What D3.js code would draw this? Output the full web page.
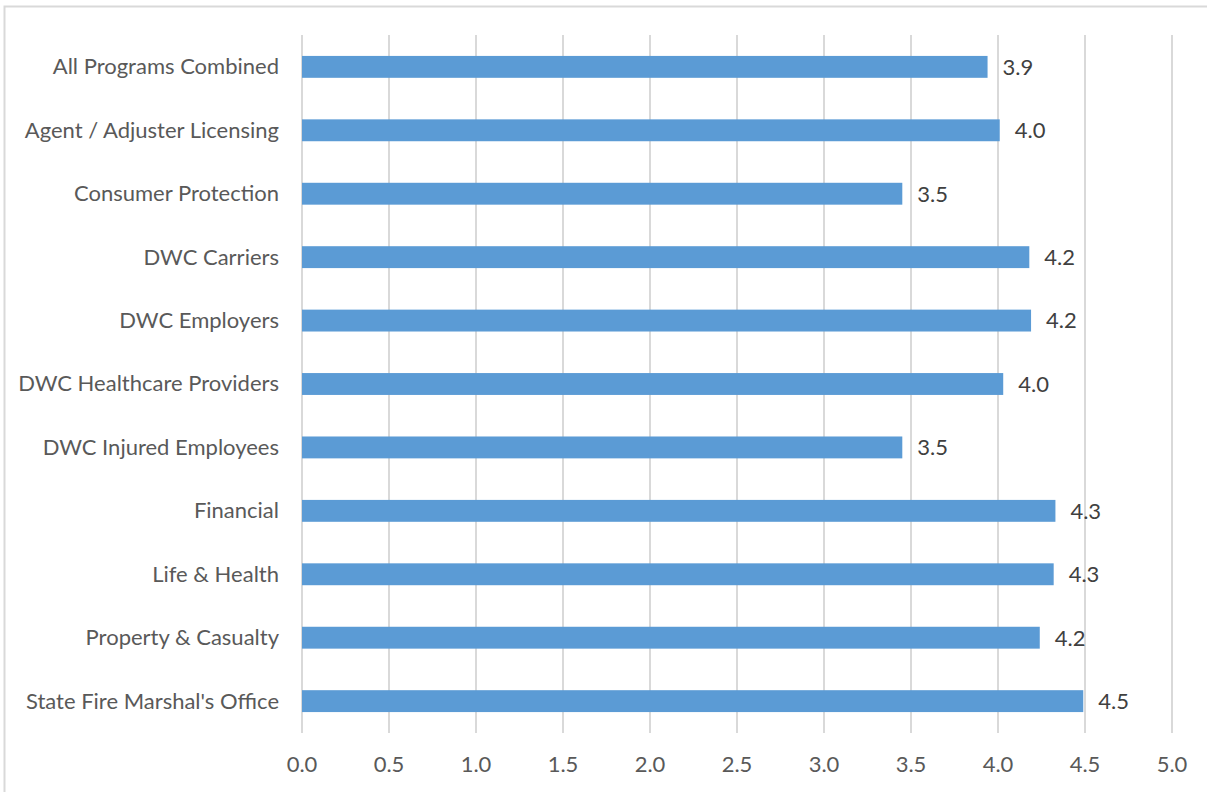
<!DOCTYPE html>
<html><head><meta charset="utf-8">
<script src="https://cdn.jsdelivr.net/npm/d3@7"></script>
<style>html,body{margin:0;padding:0;background:#fff;overflow:hidden}</style>
</head><body>
<svg id="chart" width="1207" height="792"></svg>
<script>
const categories = ["All Programs Combined","Agent / Adjuster Licensing","Consumer Protection","DWC Carriers","DWC Employers","DWC Healthcare Providers","DWC Injured Employees","Financial","Life & Health","Property & Casualty","State Fire Marshal's Office"];
const values = [3.94, 4.01, 3.45, 4.18, 4.19, 4.03, 3.45, 4.33, 4.32, 4.24, 4.49];
const tickValues = [0,0.5,1,1.5,2,2.5,3,3.5,4,4.5,5];

const svg = d3.select("#chart");
const font = "Lato, 'Open Sans', sans-serif";
const textColor = "#595959";

svg.append("rect").attr("x",4.5).attr("y",6.5).attr("width",1220).attr("height",800)
  .attr("fill","#fff").attr("stroke","#d9d9d9").attr("stroke-width",2);

const m = {left:302, right:1172, top:35, bottom:733};
const x = d3.scaleLinear().domain([0,5]).range([m.left,m.right]);
const y = d3.scaleBand().domain(categories).range([m.top,m.bottom]).paddingInner(0.655).paddingOuter(0.33);

svg.append("g").selectAll("line").data(tickValues).join("line")
  .attr("x1",d=>x(d)).attr("x2",d=>x(d)).attr("y1",m.top).attr("y2",m.bottom)
  .attr("stroke","#d9d9d9").attr("stroke-width",2);

svg.append("g").selectAll("rect").data(values).join("rect")
  .attr("x",x(0)).attr("y",(d,i)=>y(categories[i]))
  .attr("width",d=>x(d)-x(0)).attr("height",y.bandwidth())
  .attr("fill","#5b9bd5");

svg.append("g").selectAll("text").data(values).join("text")
  .attr("x",d=>x(d)+15).attr("y",(d,i)=>y(categories[i])+y.bandwidth()/2)
  .attr("dy","0.36em").attr("font-family",font).attr("font-size",22).attr("fill","#404040")
  .text(d=>d3.format(".1f")(d));

svg.append("g").selectAll("text").data(categories).join("text")
  .attr("x",279).attr("y",d=>y(d)+y.bandwidth()/2).attr("dy","0.34em")
  .attr("text-anchor","end").attr("font-family",font).attr("font-size",22).attr("fill",textColor)
  .text(d=>d);

svg.append("g").selectAll("text").data(tickValues).join("text")
  .attr("x",d=>x(d)).attr("y",772).attr("text-anchor","middle")
  .attr("font-family",font).attr("font-size",22).attr("fill",textColor)
  .text(d=>d3.format(".1f")(d));
</script>
</body></html>
